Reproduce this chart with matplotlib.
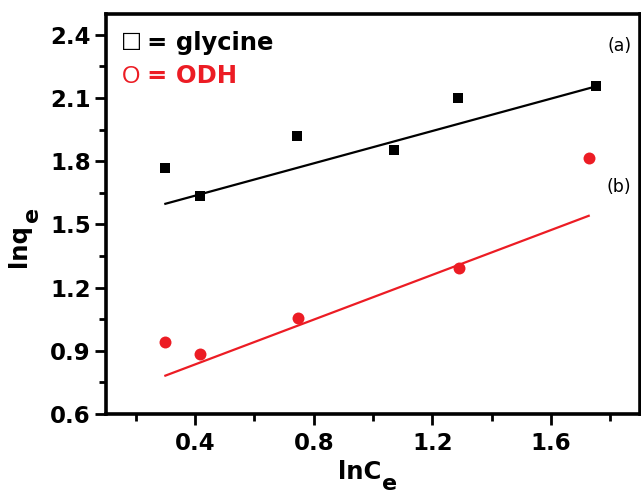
import numpy as np
import matplotlib
matplotlib.use('Agg')
from matplotlib import pyplot as plt
from matplotlib.ticker import MultipleLocator

plt.rcParams['font.family'] = ['DejaVu Sans']

#%% data
# (a) glycine
lnCe_gly = [0.30, 0.417, 0.743, 1.07, 1.287, 1.75]
lnqe_gly = [1.769, 1.636, 1.921, 1.854, 2.10, 2.158]
fit_x_gly = [0.30, 1.75]
fit_y_gly = [1.598, 2.155]

# (b) ODH
lnCe_odh = [0.30, 0.417, 0.747, 1.29, 1.727]
lnqe_odh = [0.943, 0.886, 1.057, 1.294, 1.816]
fit_x_odh = [0.30, 1.727]
fit_y_odh = [0.782, 1.541]

xticks = [0.4, 0.8, 1.2, 1.6]
yticks = [0.6, 0.9, 1.2, 1.5, 1.8, 2.1, 2.4]

red = '#ec1c24'

#%% plot
fig = plt.figure(figsize=(6.41, 4.94), dpi=100)
ax = fig.add_axes([0.1654, 0.162, 0.8331, 0.810])

ax.plot(fit_x_gly, fit_y_gly, color='black', lw=1.6)
ax.plot(fit_x_odh, fit_y_odh, color=red, lw=1.6)
ax.plot(lnCe_gly, lnqe_gly, 's', color='black', ms=7.8, mew=0)
ax.plot(lnCe_odh, lnqe_odh, 'o', color=red, ms=8.6, mew=0)

ax.set_xlim(0.1, 1.9)
ax.set_ylim(0.6, 2.5)
ax.set_xticks(xticks)
ax.set_yticks(yticks)
ax.xaxis.set_minor_locator(MultipleLocator(0.2))
ax.yaxis.set_minor_locator(MultipleLocator(0.15))

for s in ax.spines.values():
    s.set_linewidth(2.6)
ax.tick_params(which='both', direction='out', width=2.0, labelsize=16.5)
ax.tick_params(which='major', length=8)
ax.tick_params(which='minor', length=5)
ax.tick_params(axis='x', which='major', pad=5)
ax.tick_params(axis='y', which='major', pad=3)
for lab in ax.get_xticklabels() + ax.get_yticklabels():
    lab.set_fontweight('bold')

# axis titles with a large, dropped subscript
ax.set_xlabel('lnC', fontsize=17.5, fontweight='bold')
ax.xaxis.set_label_coords(0.4757, -0.115)
ax.text(0.517, -0.19, 'e', transform=ax.transAxes, fontsize=16,
        fontweight='bold', ha='left', va='baseline', clip_on=False)

ax.set_ylabel('lnq', fontsize=17.5, fontweight='bold')
ax.yaxis.set_label_coords(-0.1404, 0.42)
ax.text(-0.157, 0.4975, 'e', transform=ax.transAxes, fontsize=16,
        fontweight='bold', rotation=90, ha='left', va='center', clip_on=False)

# key
ax.text(0.028, 0.918, '\u25a1', transform=ax.transAxes, fontsize=16,
        color='black', ha='left', va='baseline')
ax.text(0.0768, 0.91, '= glycine', transform=ax.transAxes, fontsize=17.5,
        fontweight='bold', color='black', ha='left', va='baseline')
ax.text(0.030, 0.8275, 'O', transform=ax.transAxes, fontsize=17,
        family=['Liberation Sans'], color=red, ha='left', va='baseline')
ax.text(0.0768, 0.8275, '= ODH', transform=ax.transAxes, fontsize=17.5,
        fontweight='bold', color=red, ha='left', va='baseline')

ax.text(1.83, 2.348, '(a)', fontsize=12.5, ha='center', va='center')
ax.text(1.83, 1.678, '(b)', fontsize=12.5, ha='center', va='center')

plt.savefig('out.png', dpi=100)
